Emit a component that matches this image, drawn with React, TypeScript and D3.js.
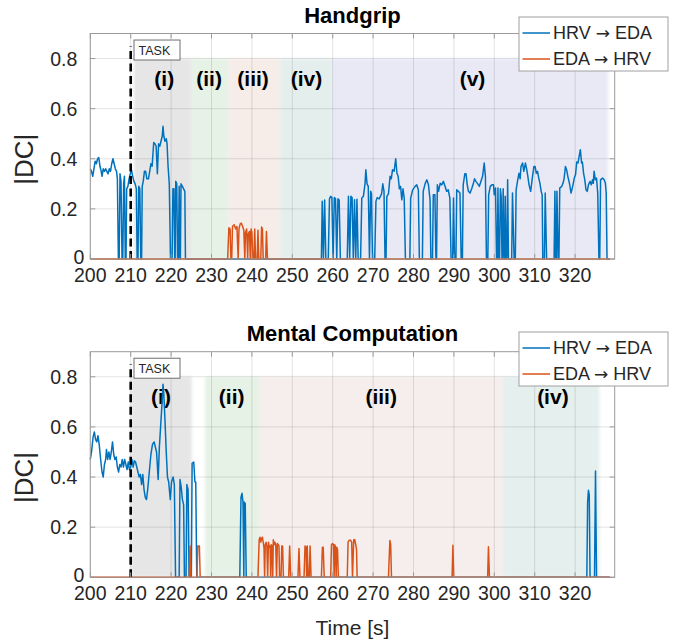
import React from 'react';
import * as d3 from 'd3';

type Pt = [number, number];

// ---------- axes / ticks ----------
const xDomain: [number, number] = [200, 329.8];
const yDomain: [number, number] = [0, 0.9];
const xTickValues = [200, 210, 220, 230, 240, 250, 260, 270, 280, 290, 300, 310, 320];
const yTickValues = [0, 0.2, 0.4, 0.6, 0.8];
const yTickLabels = ['0', '0.2', '0.4', '0.6', '0.8'];
const xAxisTitle = 'Time [s]';
const yAxisTitle = '|DC|';
const legendFrom = ['HRV', 'EDA'];
const legendTo = ['EDA', 'HRV'];
const legendArrow = '\u2192';
const taskLabel = 'TASK';
const taskTime = 210;
const taskLineTop = 0.85;
const phaseTop = 0.8;
const phaseLabelLevel = 0.72;

// ---------- Handgrip ----------
const handgripTitle = 'Handgrip';
const handgripPhaseLabels = ['(i)', '(ii)', '(iii)', '(iv)', '(v)'];
const handgripPhaseStart = [210.8, 225.1, 234.2, 247.0, 259.7];
const handgripPhaseEnd = [225.1, 234.2, 247.0, 259.7, 328.2];
const handgripLabelTime = [218.3, 229.4, 240.3, 253.5, 294.6];

const handgripHrvToEda: Pt[] = [
  [200.0, 0.36], [200.3, 0.35], [200.6, 0.33], [200.9, 0.36], [201.2, 0.39], [201.5, 0.38], [201.8, 0.40],
  [202.1, 0.405], [202.4, 0.37], [202.7, 0.35], [202.9, 0.33], [203.2, 0.36], [203.5, 0.35], [203.8, 0.36],
  [204.1, 0.35], [204.4, 0.34], [204.7, 0.36], [205.0, 0.35], [205.3, 0.38], [205.6, 0.40], [205.9, 0.38],
  [206.2, 0.36], [206.5, 0.35], [206.7, 0.32], [206.95, 0], [207.15, 0], [207.35, 0.34], [207.6, 0.31],
  [207.85, 0], [208.05, 0], [208.25, 0.30], [208.45, 0.33], [208.65, 0], [208.85, 0], [209.0, 0.28],
  [209.3, 0.29], [209.6, 0.32], [209.9, 0.34], [210.2, 0.355], [210.5, 0.33], [210.8, 0.31], [211.1, 0.30],
  [211.4, 0.28], [211.6, 0], [211.8, 0], [212.0, 0.29], [212.25, 0.28], [212.5, 0], [212.7, 0], [212.85, 0.29],
  [213.1, 0.31], [213.4, 0.35], [213.7, 0.35], [214.0, 0.32], [214.4, 0.32], [214.7, 0.35], [215.0, 0.38],
  [215.3, 0.37], [215.7, 0.465], [216.0, 0.46], [216.3, 0.45], [216.6, 0.34], [216.9, 0.46], [217.2, 0.45],
  [217.5, 0.47], [217.8, 0.49], [218.0, 0.53], [218.2, 0.49], [218.5, 0.47], [218.8, 0.48], [219.0, 0.46],
  [219.25, 0.37], [219.55, 0.30], [219.85, 0], [220.25, 0], [220.45, 0.28], [220.7, 0.28], [220.9, 0],
  [221.0, 0], [221.15, 0.31], [221.4, 0.30], [221.6, 0], [221.8, 0], [222.0, 0.29], [222.2, 0], [222.3, 0],
  [222.45, 0.30], [222.8, 0.29], [223.1, 0.28], [223.4, 0.27], [223.55, 0],
  [257.2, 0], [257.4, 0.23], [257.7, 0], [258.0, 0.235], [258.3, 0], [258.9, 0], [259.2, 0.24], [259.5, 0.25],
  [259.8, 0.245], [260.1, 0], [260.4, 0.245], [260.7, 0.24], [261.0, 0], [261.3, 0.24], [261.6, 0.235],
  [261.9, 0], [263.6, 0], [263.9, 0.25], [264.2, 0], [264.5, 0.25], [264.8, 0.245], [265.1, 0], [265.4, 0.236],
  [265.7, 0], [266.0, 0.238], [266.3, 0], [266.9, 0], [267.2, 0.243], [267.6, 0.25], [268.0, 0.30],
  [268.2, 0.356], [268.5, 0.30], [268.8, 0.29], [269.1, 0], [269.4, 0.27], [269.6, 0.26], [269.85, 0],
  [270.4, 0], [270.7, 0.23], [271.0, 0.245], [271.5, 0.24], [272.1, 0.26], [272.4, 0.30], [272.7, 0.27],
  [272.95, 0], [273.2, 0], [273.4, 0.25], [273.8, 0.26], [274.2, 0.33], [274.5, 0.32], [274.8, 0.356],
  [275.2, 0.35], [275.6, 0.40], [275.9, 0.342], [276.2, 0.33], [276.5, 0.28], [276.8, 0.29], [277.1, 0.236],
  [277.4, 0.28], [277.7, 0.243], [278.0, 0], [279.1, 0], [279.3, 0.243], [279.8, 0.276], [280.4, 0.29],
  [280.8, 0.296], [281.2, 0.276], [281.45, 0], [282.2, 0], [282.4, 0.27], [282.9, 0.302], [283.3, 0.316],
  [283.7, 0.296], [284.1, 0.236], [284.3, 0], [284.7, 0], [284.9, 0.256], [285.3, 0.256], [285.55, 0],
  [285.7, 0], [285.9, 0.296], [286.2, 0.27], [286.6, 0.302], [287.0, 0.296], [287.4, 0.31], [287.8, 0.29],
  [288.2, 0.27], [288.6, 0.276], [289.0, 0.243], [289.3, 0], [289.7, 0], [289.9, 0.243], [290.15, 0],
  [290.5, 0], [290.7, 0.276], [291.1, 0.27], [291.5, 0.263], [291.8, 0], [292.1, 0], [292.3, 0.296],
  [292.7, 0.34], [293.0, 0.34], [293.3, 0.296], [293.6, 0.27], [294.0, 0.263], [294.4, 0.28], [294.8, 0.30],
  [295.1, 0.32], [295.45, 0.31], [295.9, 0.30], [296.3, 0.29], [296.7, 0.31], [297.1, 0.33], [297.5, 0.383],
  [297.8, 0.33], [298.05, 0], [298.4, 0], [298.6, 0.256], [299.0, 0.29], [299.4, 0.296], [299.8, 0.296],
  [300.0, 0.256], [300.3, 0.283], [300.55, 0], [300.75, 0], [300.9, 0.283], [301.1, 0], [301.3, 0],
  [301.5, 0.28], [301.7, 0.25], [301.9, 0], [302.0, 0], [302.2, 0.28], [302.4, 0], [302.6, 0], [302.7, 0.25],
  [302.9, 0], [303.1, 0], [303.3, 0.316], [303.5, 0], [304.3, 0], [304.5, 0.263], [304.9, 0], [305.2, 0],
  [305.4, 0.276], [305.8, 0.316], [306.1, 0.342], [306.4, 0.32], [306.6, 0.369], [307.0, 0.383], [307.3, 0.35],
  [307.7, 0.383], [308.0, 0.36], [308.3, 0.33], [308.6, 0.296], [309.0, 0.27], [309.4, 0.323], [309.8, 0.369],
  [310.1, 0.369], [310.4, 0.342], [310.7, 0.35], [311.0, 0.323], [311.3, 0.302], [311.6, 0.27], [311.85, 0.256],
  [312.0, 0], [312.4, 0], [312.6, 0.263], [312.95, 0], [314.8, 0], [315.0, 0.27], [315.2, 0], [315.35, 0],
  [315.5, 0.27], [315.8, 0], [316.0, 0], [316.2, 0.283], [316.7, 0.29], [317.0, 0.302], [317.3, 0.323],
  [317.6, 0.369], [317.9, 0.356], [318.2, 0.33], [318.6, 0.302], [319.0, 0.263], [319.4, 0.29], [319.8, 0.323],
  [320.1, 0.336], [320.4, 0.387], [320.7, 0.383], [321.0, 0.41], [321.3, 0.436], [321.6, 0.383], [321.8, 0.387],
  [322.1, 0.342], [322.4, 0.316], [322.7, 0.276], [323.0, 0.27], [323.3, 0.296], [323.7, 0.31], [324.0, 0.296],
  [324.3, 0.316], [324.5, 0.302], [324.7, 0.35], [325.0, 0.316], [325.3, 0.323], [325.6, 0.263], [325.9, 0],
  [326.1, 0], [326.3, 0.316], [326.8, 0.323], [327.2, 0.316], [327.5, 0.302], [327.7, 0.263], [327.9, 0],
  [328.6, 0],
];

const handgripEdaToHrv: Pt[] = [
  [200.0, 0], [234.0, 0], [234.3, 0.125], [234.6, 0.12], [234.8, 0], [235.0, 0], [235.2, 0.13], [235.6, 0.137],
  [236.0, 0.12], [236.3, 0.13], [236.6, 0], [236.8, 0.12], [237.1, 0.14], [237.4, 0.143], [237.7, 0.13],
  [238.0, 0.115], [238.25, 0], [238.4, 0.105], [238.7, 0.12], [238.95, 0], [239.1, 0.10], [239.4, 0.11],
  [239.6, 0], [239.8, 0.12], [240.0, 0.105], [240.2, 0], [240.5, 0], [240.7, 0.12], [240.9, 0], [241.3, 0],
  [241.5, 0.115], [241.7, 0], [242.2, 0], [242.4, 0.128], [242.6, 0.12], [242.8, 0], [243.4, 0], [243.6, 0.11],
  [243.85, 0], [328.6, 0],
];

// ---------- Mental Computation ----------
const mentalTitle = 'Mental Computation';
const mentalPhaseLabels = ['(i)', '(ii)', '(iii)', '(iv)'];
const mentalPhaseStart = [210.0, 228.4, 241.8, 302.2];
const mentalPhaseEnd = [225.1, 241.8, 302.2, 326.0];
const mentalLabelTime = [217.5, 235.0, 272.0, 314.5];

const mentalHrvToEda: Pt[] = [
  [200.0, 0.47], [200.3, 0.50], [200.7, 0.56], [201.0, 0.58], [201.3, 0.55], [201.6, 0.54], [201.9, 0.565],
  [202.2, 0.53], [202.5, 0.48], [202.9, 0.42], [203.2, 0.40], [203.5, 0.45], [203.8, 0.47], [204.0, 0.51],
  [204.3, 0.47], [204.6, 0.50], [204.9, 0.47], [205.2, 0.50], [205.5, 0.54], [205.8, 0.49], [206.1, 0.47],
  [206.4, 0.48], [206.7, 0.44], [207.0, 0.42], [207.3, 0.45], [207.6, 0.44], [207.9, 0.47], [208.2, 0.44],
  [208.5, 0.47], [208.8, 0.45], [209.1, 0.43], [209.4, 0.46], [209.7, 0.43], [210.0, 0.44], [210.3, 0.47],
  [210.6, 0.44], [210.9, 0.465], [211.2, 0.46], [211.5, 0.44], [211.8, 0.42], [212.1, 0.40], [212.4, 0.41],
  [212.7, 0.37], [213.0, 0.41], [213.3, 0.35], [213.6, 0.32], [213.9, 0.31], [214.2, 0.35], [214.6, 0.42],
  [215.0, 0.49], [215.4, 0.53], [215.8, 0.54], [216.1, 0.52], [216.4, 0.50], [216.8, 0.39], [217.1, 0.52],
  [217.4, 0.60], [217.7, 0.68], [218.0, 0.77], [218.2, 0.73], [218.5, 0.62], [218.8, 0.50], [219.1, 0.40],
  [219.4, 0.38], [219.8, 0.31], [220.1, 0.38], [220.5, 0.40], [220.8, 0.37], [221.1, 0], [222.0, 0],
  [222.2, 0.39], [222.5, 0.36], [222.8, 0.31], [223.1, 0.29], [223.3, 0], [223.7, 0], [223.9, 0.37],
  [224.2, 0.35], [224.45, 0], [225.0, 0], [225.2, 0.455], [225.6, 0.46], [225.9, 0.38], [226.1, 0.38],
  [226.35, 0], [237.0, 0], [237.3, 0.32], [237.55, 0.335], [237.8, 0.30], [238.0, 0], [238.1, 0.30],
  [238.35, 0.295], [238.6, 0], [322.9, 0], [323.1, 0.30], [323.3, 0.347], [323.5, 0.33], [323.7, 0],
  [324.8, 0], [325.05, 0.424], [325.3, 0], [328.6, 0],
];

const mentalEdaToHrv: Pt[] = [
  [200.0, 0], [224.5, 0], [224.7, 0.125], [224.9, 0], [226.4, 0], [226.6, 0.125], [227.0, 0.125], [227.2, 0],
  [241.5, 0], [241.8, 0.15], [242.0, 0.16], [242.2, 0.14], [242.4, 0.155], [242.6, 0.16], [242.8, 0.14],
  [243.0, 0.115], [243.15, 0], [243.3, 0.13], [243.5, 0.14], [243.7, 0.125], [243.9, 0], [244.1, 0.14],
  [244.3, 0.12], [244.5, 0.125], [244.65, 0], [244.8, 0.13], [245.0, 0.125], [245.15, 0], [245.3, 0.15],
  [245.5, 0.13], [245.7, 0.14], [245.9, 0.13], [246.1, 0], [246.3, 0.135], [246.5, 0.13], [246.7, 0.125],
  [246.85, 0], [247.2, 0], [247.4, 0.125], [247.6, 0.125], [247.8, 0], [249.1, 0], [249.35, 0.125], [249.6, 0],
  [251.4, 0], [251.65, 0.115], [251.9, 0], [252.9, 0], [253.15, 0.125], [253.4, 0.12], [253.55, 0],
  [253.7, 0.125], [253.9, 0], [254.2, 0], [254.4, 0.125], [254.65, 0], [257.2, 0], [257.45, 0.12],
  [257.65, 0.12], [257.9, 0], [259.5, 0], [259.7, 0.13], [259.95, 0.135], [260.2, 0.13], [260.35, 0],
  [260.5, 0.13], [260.7, 0.12], [260.85, 0], [261.0, 0.12], [261.2, 0.11], [261.4, 0], [263.6, 0],
  [263.8, 0.14], [264.1, 0.148], [264.4, 0.148], [264.7, 0.14], [264.9, 0], [265.2, 0.15], [265.45, 0.15],
  [265.7, 0.13], [265.9, 0.11], [266.05, 0], [273.8, 0], [274.15, 0.147], [274.35, 0.13], [274.55, 0],
  [289.55, 0], [289.75, 0.128], [289.95, 0], [298.35, 0], [298.55, 0.122], [298.8, 0], [328.6, 0],
];

// ---------- styles ----------
const FONT = '"Liberation Sans", Arial, Helvetica, sans-serif';
const BLUE = '#0072BD';
const ORANGE = '#D95319';
const TEXT = '#262626';
const handgripPhaseColors = ['#e6e6e6', '#e6f2e6', '#f6ece8', '#e4efed', '#e8e9f5'];
const mentalPhaseColors = ['#e6e6e6', '#e6f2e6', '#f5eeec', '#e4efee'];

const PLOT_LEFT = 90.3;
const PLOT_RIGHT = 614.7;

interface PanelProps {
  top: number;
  bottom: number;
  title: string;
  hrv: Pt[];
  eda: Pt[];
  labels: string[];
  starts: number[];
  ends: number[];
  labelTimes: number[];
  colors: string[];
  legendTop: number;
  showXTitle: boolean;
  id: string;
}

function Panel(p: PanelProps) {
  const x = d3.scaleLinear().domain(xDomain).range([PLOT_LEFT, PLOT_RIGHT]);
  const y = d3.scaleLinear().domain(yDomain).range([p.bottom, p.top]);
  const line = d3.line<Pt>().x(d => x(d[0])).y(d => y(d[1]));
  const cx = (PLOT_LEFT + PLOT_RIGHT) / 2;
  const tickLen = 5;
  const lgX = 519, lgW = 149, lgH = 54;
  return (
    <g>
      {/* phases */}
      <g filter="url(#soft)">
        {p.labels.map((l, i) => (
          <rect key={l} x={x(p.starts[i])} y={y(phaseTop)} width={x(p.ends[i]) - x(p.starts[i])}
            height={y(0) - y(phaseTop)} fill={p.colors[i]} />
        ))}
      </g>
      {/* grid */}
      <g stroke="#262626" strokeOpacity={0.13} strokeWidth={1}>
        {xTickValues.map(t => (
          <line key={'gx' + t} x1={x(t)} x2={x(t)} y1={p.top} y2={p.bottom} />
        ))}
        {yTickValues.map(t => (
          <line key={'gy' + t} x1={PLOT_LEFT} x2={PLOT_RIGHT} y1={y(t)} y2={y(t)} />
        ))}
      </g>
      {/* phase labels */}
      {p.labels.map((l, i) => (
        <text key={'pl' + l} x={x(p.labelTimes[i])} y={y(phaseLabelLevel)} textAnchor="middle"
          dominantBaseline="central" fontSize={21} fontWeight="bold" fill="#000">{l}</text>
      ))}
      {/* series */}
      <path d={line(p.hrv) || ''} fill="none" stroke={BLUE} strokeWidth={1.5} strokeLinejoin="round" />
      <path d={line(p.eda) || ''} fill="none" stroke={ORANGE} strokeWidth={1.5} strokeLinejoin="round" />
      {/* task marker */}
      <line x1={x(taskTime)} x2={x(taskTime)} y1={y(0)} y2={y(taskLineTop)} stroke="#000" strokeWidth={2.6}
        strokeDasharray="8,4.5" />
      <rect x={134} y={y(taskLineTop) - 6} width={46} height={20} fill="#fff" stroke="#6e6e6e" strokeWidth={1} />
      <text x={138.5} y={y(taskLineTop) + 4.5} dominantBaseline="central" fontSize={12.5} fill={TEXT}>{taskLabel}</text>
      {/* box */}
      <rect x={PLOT_LEFT} y={p.top} width={PLOT_RIGHT - PLOT_LEFT} height={p.bottom - p.top} fill="none"
        stroke="#9a9a9a" strokeWidth={1} />
      {/* ticks */}
      <g stroke="#9a9a9a" strokeWidth={1}>
        {xTickValues.map(t => (
          <g key={'tx' + t}>
            <line x1={x(t)} x2={x(t)} y1={p.bottom} y2={p.bottom - tickLen} />
            <line x1={x(t)} x2={x(t)} y1={p.top} y2={p.top + tickLen} />
          </g>
        ))}
        {yTickValues.map(t => (
          <g key={'ty' + t}>
            <line x1={PLOT_LEFT} x2={PLOT_LEFT + tickLen} y1={y(t)} y2={y(t)} />
            <line x1={PLOT_RIGHT} x2={PLOT_RIGHT - tickLen} y1={y(t)} y2={y(t)} />
          </g>
        ))}
      </g>
      {/* tick labels */}
      {xTickValues.map(t => (
        <text key={'xl' + t} x={x(t)} y={p.bottom + 15.5} textAnchor="middle" dominantBaseline="central"
          fontSize={19.5} fill={TEXT}>{t}</text>
      ))}
      {yTickValues.map((t, i) => (
        <text key={'yl' + t} x={t === 0 ? PLOT_LEFT - 6 : PLOT_LEFT - 13} y={y(t) - (t === 0 ? 2.5 : 0)}
          textAnchor="end" dominantBaseline="central" fontSize={19.5} fill={TEXT}>{yTickLabels[i]}</text>
      ))}
      <text transform={`translate(24,${(p.top + p.bottom) / 2 + 13}) rotate(-90)`} textAnchor="middle"
        dominantBaseline="central" fontSize={26} fill={TEXT}>{yAxisTitle}</text>
      <text x={cx} y={p.top - 11} textAnchor="middle" fontSize={22} fontWeight="bold" fill="#000">{p.title}</text>
      {p.showXTitle && (
        <text x={cx} y={627} textAnchor="middle" dominantBaseline="central" fontSize={21} fill={TEXT}>{xAxisTitle}</text>
      )}
      {/* legend */}
      <rect x={lgX} y={p.legendTop} width={lgW} height={lgH} fill="#fff" stroke="#a0a0a0" strokeWidth={1} />
      {legendFrom.map((l, i) => {
        const ly = p.legendTop + 16 + i * 26;
        return (
          <g key={'lg' + i}>
            <line x1={lgX + 3.5} x2={lgX + 31} y1={ly} y2={ly} stroke={i === 0 ? BLUE : ORANGE} strokeWidth={1.5} />
            <text x={lgX + 34} y={ly} dominantBaseline="central" fontSize={18} fill={TEXT}>
              {l + ' '}
              <tspan fontFamily='"DejaVu Sans", sans-serif' fontSize={17}>{legendArrow}</tspan>
              {' ' + legendTo[i]}
            </text>
          </g>
        );
      })}
    </g>
  );
}

export default function App() {
  return (
    <svg width={685} height={642} viewBox="0 0 685 642"
      style={{ position: 'absolute', left: 0, top: 0, background: '#fff', fontFamily: FONT }}>
      <defs>
        <filter id="soft" x="-5%" y="-5%" width="110%" height="110%">
          <feGaussianBlur stdDeviation="1.6" />
        </filter>
      </defs>
      <rect x={0} y={0} width={685} height={642} fill="#fff" />
      <Panel id="hg" top={33.5} bottom={259} title={handgripTitle} hrv={handgripHrvToEda} eda={handgripEdaToHrv}
        labels={handgripPhaseLabels} starts={handgripPhaseStart} ends={handgripPhaseEnd}
        labelTimes={handgripLabelTime} colors={handgripPhaseColors} legendTop={17} showXTitle={false} />
      <Panel id="mc" top={351.7} bottom={577.3} title={mentalTitle} hrv={mentalHrvToEda} eda={mentalEdaToHrv}
        labels={mentalPhaseLabels} starts={mentalPhaseStart} ends={mentalPhaseEnd}
        labelTimes={mentalLabelTime} colors={mentalPhaseColors} legendTop={332} showXTitle={true} />
    </svg>
  );
}
